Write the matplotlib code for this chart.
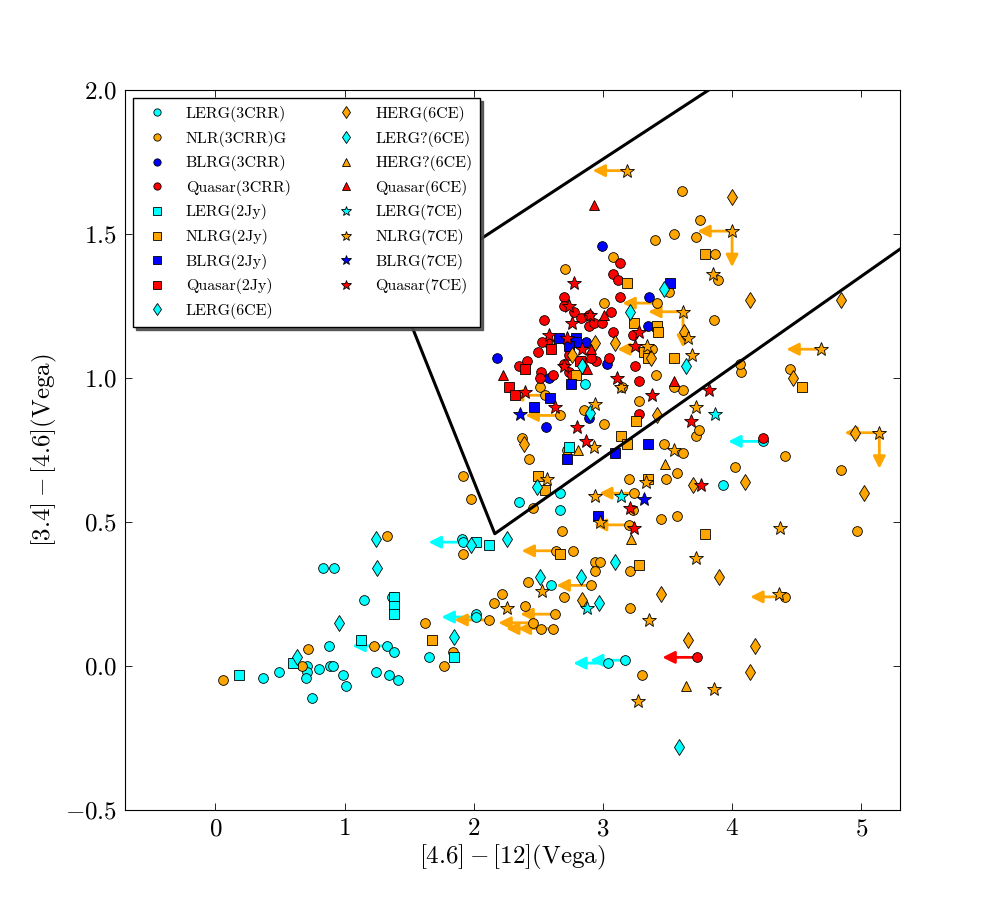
import matplotlib
matplotlib.use('Agg')
import matplotlib.pyplot as plt
import numpy as np

plt.rcParams['font.family'] = 'cmr10'
plt.rcParams['mathtext.fontset'] = 'cm'
plt.rcParams['axes.formatter.use_mathtext'] = True

# ---------------- data ----------------
lerg_3crr_x = [0.37, 0.49, 0.71, 0.71, 0.70, 0.80, 0.89, 0.91, 0.99, 1.01, 0.75, 0.83, 0.92, 1.15, 1.37,
               0.88, 1.33, 1.38, 1.24, 1.34, 1.41, 1.65, 1.91, 1.92, 2.02, 2.02, 2.35, 2.67, 2.67, 2.60,
               3.04, 3.17, 3.93, 4.24, 2.86]
lerg_3crr_y = [-0.04, -0.02, 0.00, -0.02, -0.04, -0.01, 0.00, 0.00, -0.03, -0.07, -0.11, 0.34, 0.34, 0.23, 0.24,
               0.07, 0.07, 0.05, -0.02, -0.03, -0.05, 0.03, 0.44, 0.43, 0.18, 0.17, 0.57, 0.60, 0.54, 0.28,
               0.01, 0.02, 0.63, 0.78, 0.98]

nlr_3crr_x = [1.33, 0.72, 0.67, 0.06, 1.23, 1.92, 2.64, 2.77, 2.94, 2.98, 2.94, 3.21, 2.42, 2.91, 2.22,
              2.16, 2.70, 2.40, 2.63, 2.12, 1.62, 2.46, 2.52, 2.61, 1.84, 1.77, 3.21, 3.30, 2.67, 2.37,
              2.43, 1.92, 1.98, 2.46, 2.68, 2.72, 2.85, 3.01, 3.28, 3.47, 3.62, 3.72, 3.74, 3.20, 3.49,
              3.57, 4.02, 3.24, 3.23, 3.45, 3.57, 3.20, 4.41, 4.84, 4.97, 4.41, 4.45, 4.07, 3.08, 3.87,
              3.89, 3.51, 3.42, 3.01, 3.86, 3.38, 4.06, 3.41, 3.62, 3.55, 3.15, 3.61, 3.75, 3.40, 3.55,
              3.72, 2.71, 2.51, 2.55, 2.58]
nlr_3crr_y = [0.45, 0.06, 0.00, -0.05, 0.07, 0.39, 0.40, 0.40, 0.36, 0.36, 0.33, 0.33, 0.29, 0.28, 0.25,
              0.22, 0.24, 0.21, 0.18, 0.16, 0.15, 0.15, 0.13, 0.13, 0.05, 0.00, 0.20, -0.03, 0.87, 0.79,
              0.72, 0.66, 0.58, 0.55, 0.47, 0.75, 0.89, 0.84, 0.92, 0.77, 0.74, 0.80, 0.82, 0.65, 0.65,
              0.67, 0.69, 0.60, 0.54, 0.51, 0.52, 0.49, 0.73, 0.68, 0.47, 0.24, 1.03, 1.02, 1.42, 1.43,
              1.34, 1.30, 1.26, 1.26, 1.20, 1.10, 1.05, 1.01, 0.96, 0.97, 0.97, 1.65, 1.55, 1.48, 1.50,
              1.49, 1.38, 0.97, 0.94, 1.12]

blrg_3crr_x = [2.18, 2.87, 3.03, 2.58, 3.36, 3.35, 2.99, 2.56, 2.89]
blrg_3crr_y = [1.07, 1.125, 1.05, 1.00, 1.28, 1.18, 1.46, 0.83, 0.86]

quasar_3crr_x = [2.70, 2.70, 2.78, 2.83, 2.89, 2.89, 2.93, 2.54, 2.57, 2.53, 2.50, 2.74, 2.70, 2.84, 2.95,
                 2.91, 3.05, 3.08, 3.13, 2.41, 2.35, 2.52, 2.51, 2.61, 2.74, 2.76, 3.13, 3.08, 3.12, 3.06,
                 2.99, 3.23, 3.25, 3.28, 4.24, 3.73, 3.28]
quasar_3crr_y = [1.28, 1.25, 1.23, 1.21, 1.22, 1.18, 1.19, 1.20, 1.125, 1.125, 1.09, 1.08, 1.05, 1.06, 1.06,
                 1.07, 1.07, 1.16, 1.28, 1.06, 1.04, 1.02, 1.00, 1.01, 1.02, 1.01, 1.40, 1.36, 1.34, 1.23,
                 1.19, 1.15, 1.04, 0.99, 0.79, 0.03, 0.875]

lerg_2jy_x = [0.18, 0.60, 1.13, 1.38, 1.38, 1.38, 2.02, 2.12, 2.74, 1.85]
lerg_2jy_y = [-0.03, 0.01, 0.09, 0.24, 0.21, 0.18, 0.43, 0.42, 0.76, 0.03]

nlrg_2jy_x = [3.79, 3.19, 3.24, 3.42, 3.43, 3.32, 3.35, 3.55, 2.79, 3.26, 3.14, 3.19, 3.35, 3.79, 4.54,
              2.50, 2.55, 2.67, 3.28, 1.68]
nlrg_2jy_y = [1.43, 1.33, 1.19, 1.18, 1.16, 1.09, 1.07, 1.07, 1.01, 0.85, 0.80, 0.77, 0.65, 0.46, 0.97,
              0.66, 0.61, 0.39, 0.35, 0.09]

blrg_2jy_x = [2.66, 2.79, 2.79, 2.74, 2.75, 2.59, 2.47, 2.72, 3.52, 3.35, 3.09, 2.96]
blrg_2jy_y = [1.14, 1.14, 1.125, 1.11, 0.98, 0.93, 0.90, 0.72, 1.33, 0.77, 0.74, 0.52]

quasar_2jy_x = [2.60, 2.40, 2.27, 2.32, 2.82]
quasar_2jy_y = [1.10, 1.03, 0.97, 0.94, 1.06]

lerg_6ce_x = [1.24, 1.25, 0.96, 0.63, 1.98, 2.26, 2.49, 1.85, 2.51, 2.83]
lerg_6ce_y = [0.44, 0.34, 0.15, 0.03, 0.42, 0.44, 0.62, 0.10, 0.31, 0.31]

herg_6ce_x = [4.14, 4.84, 4.47, 4.95, 4.00, 3.70, 4.10, 5.02, 3.90, 3.45, 3.66, 4.18, 4.14, 3.42, 3.63,
              3.09, 3.37, 2.94, 2.76, 2.84, 2.39]
herg_6ce_y = [1.27, 1.27, 1.00, 0.81, 1.63, 0.63, 0.64, 0.60, 0.31, 0.25, 0.09, 0.07, -0.02, 0.87, 1.16,
              1.12, 1.07, 1.12, 1.08, 0.23, 0.77]

lergq_6ce_x = [2.97, 3.09, 3.47, 3.21, 3.64, 2.84, 2.90, 3.59]
lergq_6ce_y = [0.22, 0.36, 1.31, 1.23, 1.04, 1.04, 0.88, -0.28]

hergq_6ce_x = [2.81, 3.48, 3.22, 3.64]
hergq_6ce_y = [0.75, 0.70, 0.44, -0.07]

quasar_6ce_x = [2.93, 2.23, 3.01, 2.91, 2.88, 3.55]
quasar_6ce_y = [1.60, 1.01, 1.22, 1.10, 1.03, 0.99]

lerg_7ce_x = [3.87, 3.14, 2.88]
lerg_7ce_y = [0.875, 0.59, 0.20]

nlrg_7ce_x = [3.19, 4.00, 3.85, 3.62, 3.66, 3.69, 3.34, 3.14, 2.94, 3.72, 4.69, 5.14, 2.93, 3.55, 3.33,
              2.94, 2.98, 3.72, 4.37, 3.36, 4.36, 3.86, 2.53, 2.26, 3.27, 2.57]
nlrg_7ce_y = [1.72, 1.51, 1.36, 1.23, 1.14, 1.08, 1.11, 0.97, 0.91, 0.90, 1.10, 0.81, 0.76, 0.75, 0.64,
              0.59, 0.50, 0.375, 0.48, 0.16, 0.25, -0.08, 0.26, 0.20, -0.12, 0.65]

blrg_7ce_x = [2.36, 3.32]
blrg_7ce_y = [0.875, 0.58]

quasar_7ce_x = [2.78, 2.74, 2.76, 2.58, 2.70, 2.40, 3.28, 3.25, 3.11, 3.38, 3.82, 2.90, 2.84, 2.80, 2.87,
                3.68, 3.76, 3.21, 3.24, 2.72, 2.63]
quasar_7ce_y = [1.33, 1.25, 1.19, 1.15, 1.04, 0.95, 1.16, 1.11, 1.00, 0.94, 0.96, 1.22, 1.10, 0.83, 0.78,
                0.85, 0.63, 0.55, 0.48, 1.14, 0.90]

# upper limits (arrows start at these points)
left_arrow_x = [1.33, 1.92, 2.02, 3.04, 3.17, 4.24,
                2.64, 2.91, 2.63, 2.12, 2.46, 2.52, 2.61, 2.67, 3.24, 3.20, 4.41, 3.42, 3.38, 2.55,
                3.19, 4.00, 3.62, 4.69, 5.14,
                3.73]
left_arrow_y = [0.07, 0.43, 0.17, 0.01, 0.02, 0.78,
                0.40, 0.28, 0.18, 0.16, 0.15, 0.13, 0.13, 0.87, 0.60, 0.49, 0.24, 1.26, 1.10, 0.94,
                1.72, 1.51, 1.23, 1.10, 0.81,
                0.03]
left_arrow_c = ['cyan'] * 6 + ['orange'] * 19 + ['red']
down_arrow_x = [4.00, 3.62, 5.14]
down_arrow_y = [1.51, 1.23, 0.81]

# wedge boundaries  y = a*x + b
wedge_top = (0.293, 0.881)
wedge_bottom = (0.315, -0.222)
wedge_left = (-1.122, 2.886)

x_ticks = [0, 1, 2, 3, 4, 5]
y_ticks = [-0.5, 0.0, 0.5, 1.0, 1.5, 2.0]

# ---------------- plot ----------------
fig = plt.figure(figsize=(10, 9), dpi=100)
ax = fig.add_axes([0.125, 0.1, 0.775, 0.8])

series = [
    (lerg_3crr_x, lerg_3crr_y, 'o', 'cyan', 7, 'LERG(3CRR)'),
    (nlr_3crr_x, nlr_3crr_y, 'o', 'orange', 7, 'NLR(3CRR)G'),
    (blrg_3crr_x, blrg_3crr_y, 'o', 'blue', 7, 'BLRG(3CRR)'),
    (quasar_3crr_x, quasar_3crr_y, 'o', 'red', 7, 'Quasar(3CRR)'),
    (lerg_2jy_x, lerg_2jy_y, 's', 'cyan', 7, 'LERG(2Jy)'),
    (nlrg_2jy_x, nlrg_2jy_y, 's', 'orange', 7, 'NLRG(2Jy)'),
    (blrg_2jy_x, blrg_2jy_y, 's', 'blue', 7, 'BLRG(2Jy)'),
    (quasar_2jy_x, quasar_2jy_y, 's', 'red', 7, 'Quasar(2Jy)'),
    (lerg_6ce_x, lerg_6ce_y, 'd', 'cyan', 8, 'LERG(6CE)'),
    (herg_6ce_x, herg_6ce_y, 'd', 'orange', 8, 'HERG(6CE)'),
    (lergq_6ce_x, lergq_6ce_y, 'd', 'cyan', 8, 'LERG?(6CE)'),
    (hergq_6ce_x, hergq_6ce_y, '^', 'orange', 7, 'HERG?(6CE)'),
    (quasar_6ce_x, quasar_6ce_y, '^', 'red', 7, 'Quasar(6CE)'),
    (lerg_7ce_x, lerg_7ce_y, '*', 'cyan', 10, 'LERG(7CE)'),
    (nlrg_7ce_x, nlrg_7ce_y, '*', 'orange', 10, 'NLRG(7CE)'),
    (blrg_7ce_x, blrg_7ce_y, '*', 'blue', 10, 'BLRG(7CE)'),
    (quasar_7ce_x, quasar_7ce_y, '*', 'red', 10, 'Quasar(7CE)'),
]

ARROW_DX = 0.27
ARROW_DY = 0.125
for x, y, c in zip(left_arrow_x, left_arrow_y, left_arrow_c):
    ax.annotate('', xy=(x - ARROW_DX, y), xytext=(x, y), xycoords='data', textcoords='data',
                arrowprops=dict(arrowstyle='-|>', color=c, lw=2, shrinkA=0, shrinkB=0,
                                mutation_scale=18), zorder=1)
for x, y in zip(down_arrow_x, down_arrow_y):
    ax.annotate('', xy=(x, y - ARROW_DY), xytext=(x, y), xycoords='data', textcoords='data',
                arrowprops=dict(arrowstyle='-|>', color='orange', lw=2, shrinkA=0, shrinkB=0,
                                mutation_scale=18), zorder=1)

for x, y, m, c, ms, lab in series:
    ax.plot(x, y, linestyle='none', marker=m, color=c, markersize=ms, markeredgecolor='k',
            markeredgewidth=0.6, label=lab, zorder=2)

# wedge
a_t, b_t = wedge_top
a_b, b_b = wedge_bottom
a_l, b_l = wedge_left
x_tl = (b_l - b_t) / (a_t - a_l)
x_bl = (b_l - b_b) / (a_b - a_l)
wx = [6.0, x_tl, x_bl, 7.0]
wy = [a_t * 6.0 + b_t, a_t * x_tl + b_t, a_b * x_bl + b_b, a_b * 7.0 + b_b]
ax.plot(wx, wy, color='k', lw=2.2, zorder=3)

ax.set_xlim(-0.7, 5.3)
ax.set_ylim(-0.5, 2.0)
ax.set_xticks(x_ticks)
ax.set_yticks(y_ticks)
ax.tick_params(direction='in', top=True, right=True, length=5, width=0.6, labelsize=18, pad=6)
ax.set_xlabel(r'$\mathrm{[4.6]-[12](Vega)}$', fontsize=18, labelpad=2)
ax.set_ylabel(r'$\mathrm{[3.4]-[4.6](Vega)}$', fontsize=18, labelpad=4)

leg = ax.legend(loc='upper left', ncol=2, numpoints=1, fontsize=11.5, markerscale=0.75,
                shadow={'alpha': 0.9}, fancybox=False, framealpha=1, edgecolor='k',
                labelspacing=0.54, handlelength=2.0, handletextpad=0.8, columnspacing=2.5,
                borderpad=0.5, borderaxespad=0.5)
leg.get_frame().set_linewidth(1.0)

fig.savefig('out.png', dpi=100)
